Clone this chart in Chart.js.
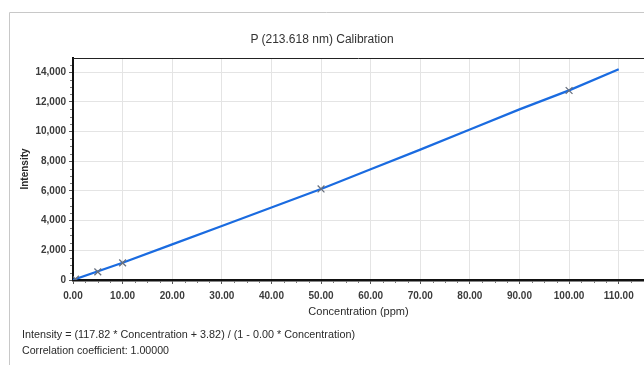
<!DOCTYPE html>
<html>
<head>
<meta charset="utf-8">
<script src="https://cdn.jsdelivr.net/npm/chart.js@4.4.1/dist/chart.umd.min.js"></script>
<style>
  html, body { margin: 0; padding: 0; background: #fff; overflow: hidden; }
  #wrap { position: relative; width: 644px; height: 365px; }
  #c { position: absolute; left: 0; top: 0; }
  .txt { position: absolute; font-family: "Liberation Sans", Arial, sans-serif; color: #2a2a2a; white-space: nowrap; }
  #title { left: 0; width: 644px; top: 32px; text-align: center; font-size: 12px; color: #333; }
  #eq1 { left: 22px; top: 328px; font-size: 11px; transform-origin: 0 0; }
  #eq2 { left: 22px; top: 344px; font-size: 11px; transform-origin: 0 0; }
</style>
</head>
<body>
<div id="wrap">
  <canvas id="c" width="644" height="365"></canvas>
  <div class="txt" id="title">P (213.618 nm) Calibration</div>
  <div class="txt" id="eq1">Intensity = (117.82 * Concentration + 3.82) / (1 - 0.00 * Concentration)</div>
  <div class="txt" id="eq2">Correlation coefficient: 1.00000</div>
</div>
<script>
// ---- data ----
const curveConc = [0, 10, 20, 30, 40, 50, 60, 70, 80, 90, 100, 110];
const curveIntensity = [4, 1160, 2400, 3640, 4885, 6130, 7460, 8780, 10130, 11490, 12770, 14200];
const stdConc = [0.5, 5, 10, 50, 100];
const stdIntensity = [60, 550, 1155, 6130, 12760];
const xTickValues = [0, 10, 20, 30, 40, 50, 60, 70, 80, 90, 100, 110];
const yTickValues = [0, 2000, 4000, 6000, 8000, 10000, 12000, 14000];
const xAxisTitle = 'Concentration (ppm)';
const yAxisTitle = 'Intensity';

// fit equation text widths to the reference
(function fit() {
  const targets = { eq1: 333, eq2: 147 };
  for (const id in targets) {
    const el = document.getElementById(id);
    const w = el.getBoundingClientRect().width;
    if (w > 0) el.style.transform = 'scaleX(' + (targets[id] / w) + ')';
  }
})();

const tickFont = { family: '"Liberation Sans", Arial, sans-serif', size: 10, weight: 'bold' };

const decor = {
  id: 'decor',
  beforeDraw(chart) {
    const ctx = chart.ctx;
    ctx.save();
    ctx.strokeStyle = '#c8c8c8';
    ctx.lineWidth = 1;
    ctx.beginPath();
    ctx.moveTo(9.5, 365);
    ctx.lineTo(9.5, 12.5);
    ctx.lineTo(644, 12.5);
    ctx.stroke();
    ctx.restore();
  },
  afterDraw(chart) {
    const ctx = chart.ctx;
    const a = chart.chartArea;
    const xs = chart.scales.x, ys = chart.scales.y;
    ctx.save();
    ctx.strokeStyle = '#222';
    ctx.lineWidth = 1;
    ctx.beginPath();
    ctx.moveTo(a.left, a.top + 0.5);
    ctx.lineTo(a.right, a.top + 0.5);
    ctx.stroke();
    // minor ticks
    ctx.strokeStyle = '#777';
    ctx.beginPath();
    for (let v = 2.5; v <= xs.max; v += 2.5) {
      if (Math.abs(v % 10) < 1e-9) continue;
      const px = Math.round(xs.getPixelForValue(v)) + 0.5;
      ctx.moveTo(px, a.bottom + 1);
      ctx.lineTo(px, a.bottom + 3);
    }
    for (let v = 500; v <= ys.max; v += 500) {
      if (v % 2000 === 0) continue;
      const py = Math.round(ys.getPixelForValue(v)) + 0.5;
      ctx.moveTo(a.left - 1, py);
      ctx.lineTo(a.left - 3, py);
    }
    ctx.stroke();
    ctx.restore();
  }
};

new Chart(document.getElementById('c'), {
  type: 'scatter',
  data: {
    datasets: [
      {
        label: 'Standards',
        data: stdConc.map((c, i) => ({ x: c, y: stdIntensity[i] })),
        showLine: false,
        pointStyle: 'crossRot',
        pointRadius: 4.8,
        pointBorderWidth: 1.3,
        borderColor: '#68707e',
        backgroundColor: '#68707e',
        order: 0
      },
      {
        label: 'Curve',
        data: curveConc.map((c, i) => ({ x: c, y: curveIntensity[i] })),
        showLine: true,
        borderColor: '#1a6be0',
        borderWidth: 2.2,
        pointRadius: 0,
        tension: 0,
        order: 1
      }
    ]
  },
  plugins: [decor],
  options: {
    responsive: false,
    animation: false,
    devicePixelRatio: 1,
    layout: { autoPadding: false, padding: { top: 58, left: 0, right: 0, bottom: 45 } },
    plugins: { legend: { display: false }, tooltip: { enabled: false }, title: { display: false } },
    scales: {
      x: {
        type: 'linear',
        min: 0,
        max: 115.1,
        afterFit(s) { s.height = 40; s.paddingLeft = 0; s.paddingRight = 0; },
        afterBuildTicks(s) { s.ticks = xTickValues.map(v => ({ value: v })); },
        ticks: {
          font: tickFont,
          color: '#3c3c3c',
          padding: 6,
          maxRotation: 0,
          autoSkip: false,
          callback: v => Number(v).toFixed(2)
        },
        grid: { color: '#e4e4e4', lineWidth: 1, tickLength: 4, tickColor: '#555' },
        border: { color: '#111', width: 2.5 },
        title: {
          display: true,
          text: xAxisTitle,
          font: { family: '"Liberation Sans", Arial, sans-serif', size: 11 },
          color: '#2a2a2a',
          padding: { top: 0, bottom: 1 }
        }
      },
      y: {
        type: 'linear',
        min: 0,
        max: 14950,
        afterFit(s) { s.width = 73; s.paddingTop = 0; s.paddingBottom = 0; },
        afterBuildTicks(s) { s.ticks = yTickValues.map(v => ({ value: v })); },
        ticks: {
          font: tickFont,
          color: '#3c3c3c',
          padding: 3,
          autoSkip: false,
          callback: v => Number(v).toLocaleString('en-US')
        },
        grid: { color: '#e4e4e4', lineWidth: 1, tickLength: 4, tickColor: '#555' },
        border: { color: '#111', width: 2 },
        title: {
          display: true,
          text: yAxisTitle,
          font: { family: '"Liberation Sans", Arial, sans-serif', size: 10, weight: 'bold' },
          color: '#2a2a2a',
          padding: { top: 19, bottom: 0 }
        }
      }
    }
  }
});
</script>
</body>
</html>
